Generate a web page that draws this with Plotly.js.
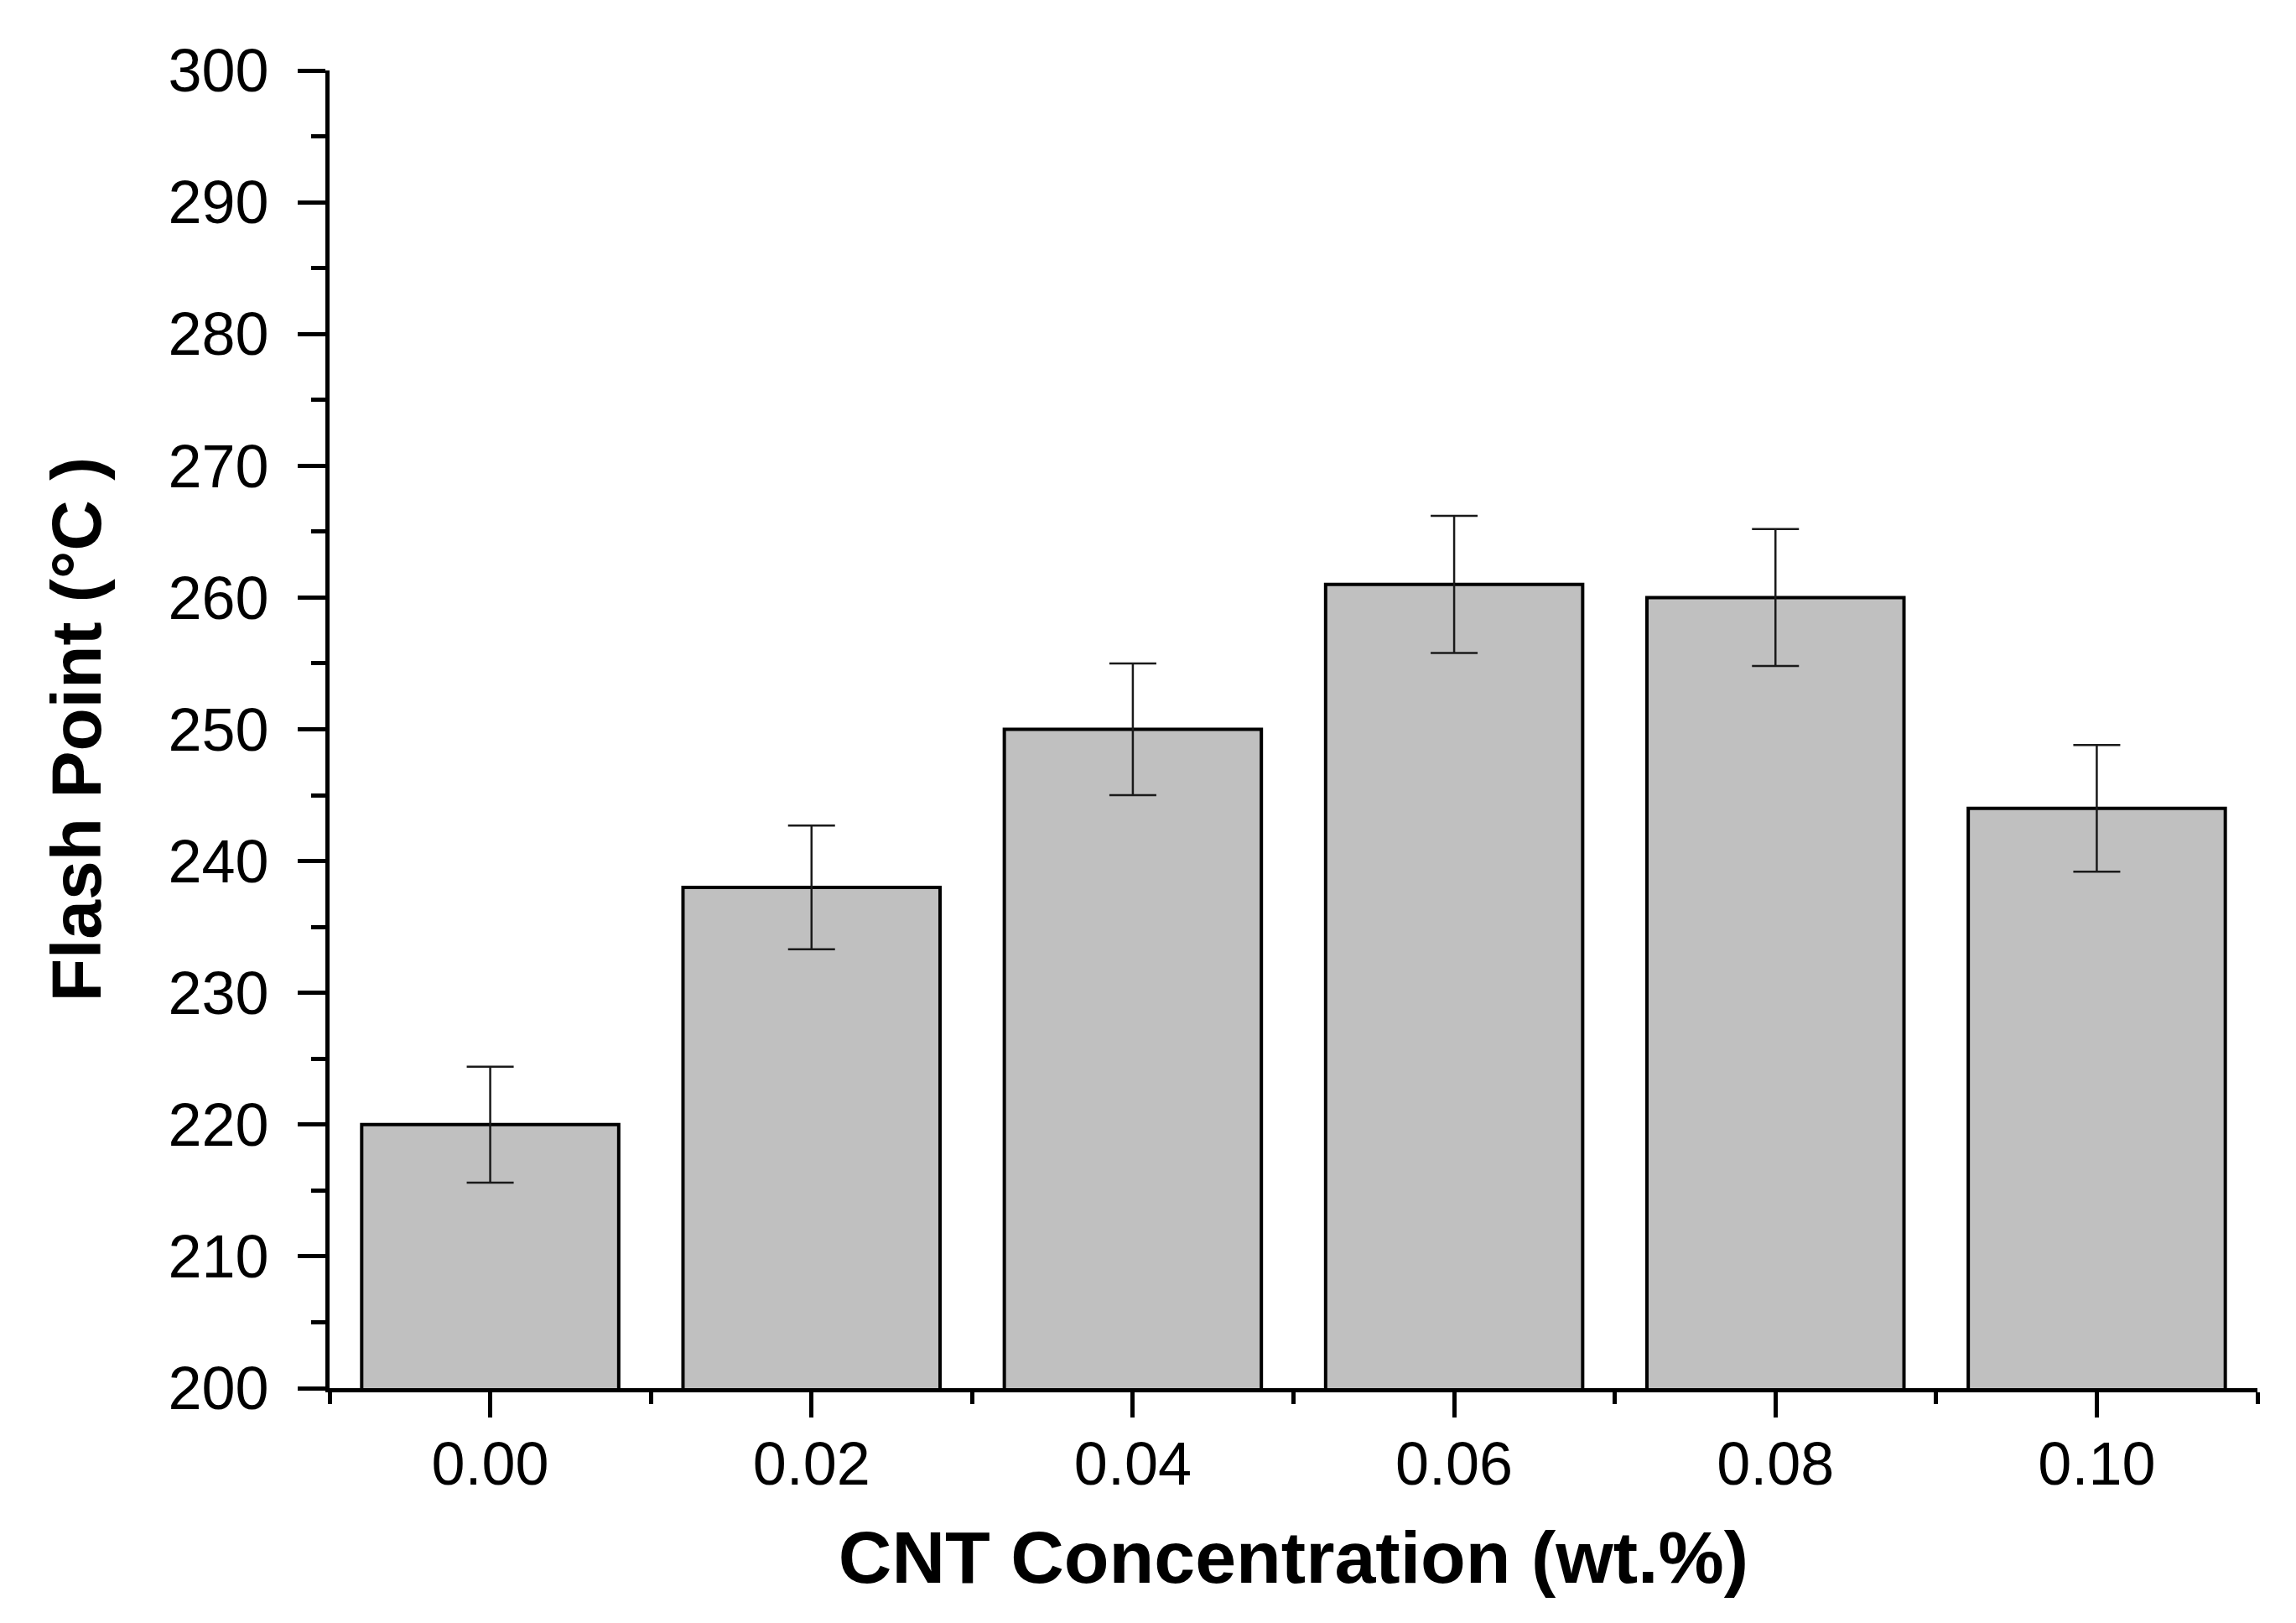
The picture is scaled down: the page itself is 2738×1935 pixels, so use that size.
<!DOCTYPE html>
<html>
<head>
<meta charset="utf-8">
<script src="https://cdn.plot.ly/plotly-3.0.1.min.js"></script>
<style>html,body{margin:0;padding:0;background:#fff;}</style>
</head>
<body>
<div id="chart" style="width:2738px;height:1935px;"></div>
<script>
const concentrations = [0.00, 0.02, 0.04, 0.06, 0.08, 0.10];
const tickLabels = ["0.00", "0.02", "0.04", "0.06", "0.08", "0.10"];
const flashPoint = [220, 238, 250, 261, 260, 244];
const flashError = [4.4, 4.7, 5.0, 5.2, 5.2, 4.8];

const trace = {
  type: 'bar',
  x: concentrations,
  y: flashPoint,
  width: 0.016,
  marker: { color: '#c0c0c0', line: { color: '#000000', width: 4 } },
  error_y: { type: 'data', array: flashError, visible: true, color: '#1a1a1a', thickness: 2.5, width: 28 },
  hoverinfo: 'skip'
};

const layout = {
  width: 2738,
  height: 1935,
  margin: { l: 393, r: 46, t: 84, b: 280 },
  paper_bgcolor: '#ffffff',
  plot_bgcolor: '#ffffff',
  showlegend: false,
  font: { family: 'Liberation Sans, Arial, sans-serif', color: '#000000' },
  xaxis: {
    range: [-0.01, 0.11],
    tickmode: 'array',
    tickvals: concentrations,
    ticktext: tickLabels,
    ticks: 'outside',
    ticklen: 30,
    tickwidth: 5,
    tickcolor: '#000',
    ticklabelstandoff: -6,
    minor: { tickmode: 'linear', tick0: -0.01, dtick: 0.02, ticks: 'outside', ticklen: 14, tickwidth: 5, tickcolor: '#000', showgrid: false },
    showline: true,
    linecolor: '#000',
    linewidth: 5,
    showgrid: false,
    zeroline: false,
    mirror: false,
    tickfont: { size: 72, family: 'Liberation Sans, Arial, sans-serif' },
    title: { text: 'CNT Concentration (wt.%)', font: { size: 88, family: 'Liberation Sans, Arial, sans-serif', weight: 'bold' }, standoff: 42 }
  },
  yaxis: {
    range: [200, 300],
    dtick: 10,
    tick0: 200,
    ticks: 'outside',
    ticklen: 33,
    tickwidth: 5,
    tickcolor: '#000',
    ticklabelstandoff: 20,
    minor: { dtick: 5, ticks: 'outside', ticklen: 17, tickwidth: 5, tickcolor: '#000', showgrid: false },
    showline: true,
    linecolor: '#000',
    linewidth: 5,
    showgrid: false,
    zeroline: false,
    mirror: false,
    tickfont: { size: 72, family: 'Liberation Sans, Arial, sans-serif' },
    title: { text: 'Flash Point (°C )', font: { size: 84, family: 'Liberation Sans, Arial, sans-serif', weight: 'bold' }, standoff: 54 }
  }
};

Plotly.newPlot('chart', [trace], layout, { displayModeBar: false, staticPlot: true });
</script>
</body>
</html>
